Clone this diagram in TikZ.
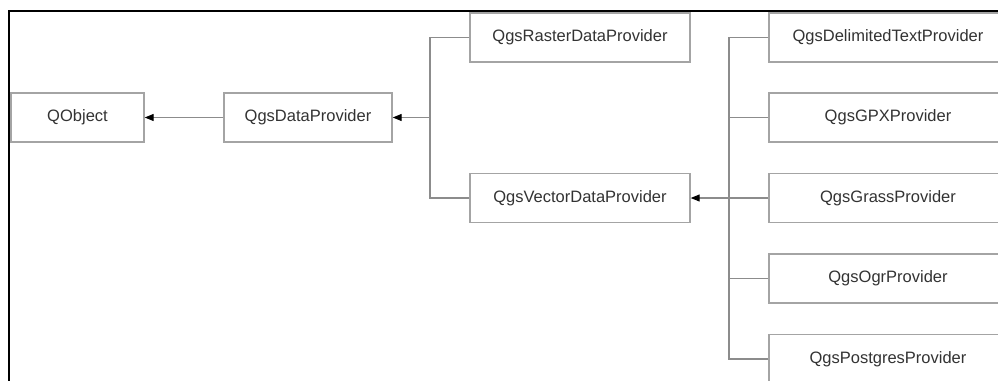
\documentclass[tikz,border=0pt]{standalone}
\usepackage{fontspec}
\setmainfont{Liberation Sans}
\usetikzlibrary{arrows.meta}
\definecolor{boxline}{HTML}{A4A4A4}
\definecolor{conn}{HTML}{8C8C8C}
\definecolor{txt}{HTML}{333333}
\begin{document}
\begin{tikzpicture}[x=1pt,y=-1pt,
  cls/.style={draw=boxline, line width=1.4pt, fill=white, minimum height=49pt, inner sep=0pt,
    text=txt, font=\fontsize{16.5}{18}\selectfont},
  wide/.style={cls, minimum width=220pt},
  conline/.style={draw=conn, line width=1.1pt},
  inh/.style={conline, -{Triangle[length=9pt,width=7pt,color=black]}}]
\useasboundingbox (0,0) rectangle (998,380);
\clip (0,0) rectangle (998,380);
\fill[white] (0,0) rectangle (998,380);
% classes
\node[cls, minimum width=133pt] (qobj) at (77.5,117.5) {QObject};
\node[cls, minimum width=168pt] (dp) at (308,117.5) {QgsDataProvider};
\node[wide] (raster) at (580,37.5) {QgsRasterDataProvider};
\node[wide] (vector) at (580,198) {QgsVectorDataProvider};
\node[cls, minimum width=238pt] (delim) at (888,37.5) {QgsDelimitedTextProvider};
\node[cls, minimum width=238pt] (gpx) at (888,117.5) {QgsGPXProvider};
\node[cls, minimum width=238pt] (grass) at (888,198) {QgsGrassProvider};
\node[cls, minimum width=238pt] (ogr) at (888,278.5) {QgsOgrProvider};
\node[cls, minimum width=238pt] (pg) at (888,359) {QgsPostgresProvider};
% junctions
\coordinate (j1) at (430,117.5);
\coordinate (j2) at (729,198);
% connectors
\draw[inh] (dp.west) -- (qobj.east);
\draw[conline] (raster.west) -| (j1);
\draw[conline] (vector.west) -| (j1);
\draw[inh] (j1) -- (dp.east);
\draw[conline] (delim.west) -| (j2);
\draw[conline] (gpx.west) -| (j2);
\draw[conline] (grass.west) -- (j2);
\draw[conline] (ogr.west) -| (j2);
\draw[conline] (pg.west) -| (j2);
\draw[inh] (j2) -- (vector.east);
% frame
\draw[black, line width=2.2pt] (9,390) -- (9,11.3) -- (1000,11.3);
\end{tikzpicture}
\end{document}
